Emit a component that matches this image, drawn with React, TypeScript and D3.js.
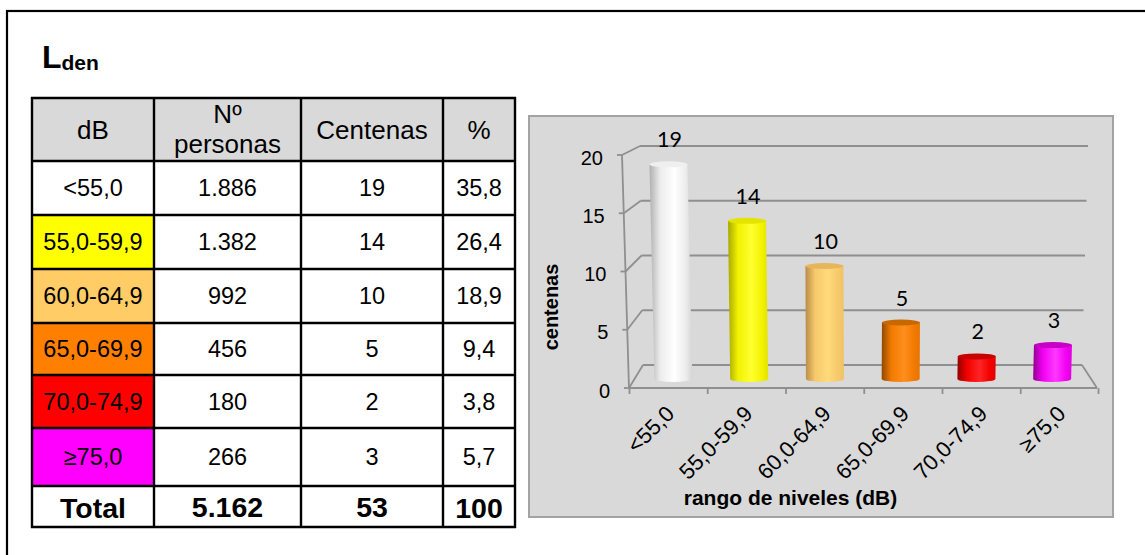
import React from "react";
import * as d3 from "d3";

// Noise exposure table (Lden) and its 3D cylinder chart
const categories = ["<55,0", "55,0-59,9", "60,0-64,9", "65,0-69,9", "70,0-74,9", "≥75,0"];
const personas = [1886, 1382, 992, 456, 180, 266];
const centenas = [19, 14, 10, 5, 2, 3];
const porcentajes = [35.8, 26.4, 18.9, 9.4, 3.8, 5.7];
const totalPersonas = 5162;
const totalCentenas = 53;
const totalPorcentaje = 100;
const yTicks = [0, 5, 10, 15, 20];

const rangeColors = ["#ffffff", "#ffff00", "#ffcc66", "#ff8000", "#ff0000", "#ff00ff"];
const barStyles = [
  { left: "#b0b0b0", mid: "#ececec", hi: "#ffffff", right: "#d4d4d4", top: "#efefef" },
  { left: "#a8a800", mid: "#f2f200", hi: "#ffff30", right: "#e2e200", top: "#e4e400" },
  { left: "#b88c48", mid: "#f6c96a", hi: "#ffda7c", right: "#f0c264", top: "#e6b65c" },
  { left: "#8f4a00", mid: "#f27a00", hi: "#ff8e1c", right: "#e87400", top: "#c86800" },
  { left: "#900000", mid: "#f20000", hi: "#ff2424", right: "#e00000", top: "#c80000" },
  { left: "#900090", mid: "#f200f2", hi: "#ff38ff", right: "#e000e0", top: "#c800c8" },
];

const es = d3.formatLocale({ decimal: ",", thousands: ".", grouping: [3], currency: ["", " €"] });
const fmtInt = es.format(",d");
const fmtPct = es.format(".1f");

const SANS = "'Liberation Sans', Arial, sans-serif";
const CAL = "Lato, 'Open Sans', sans-serif";

// table grid
const colEdges = [32, 154, 301, 443, 515];
const rowEdges = [98, 161, 215, 269, 323, 375, 428, 486, 527];

// chart geometry (3D frame)
const yFront = d3.scaleLinear().domain([0, 20]).range([388, 155]);
const yBack = d3.scaleLinear().domain([0, 20]).range([365, 146]);
const axisX = d3.scaleLinear().domain([0, 20]).range([629, 622]);
const backLeftX = d3.scaleLinear().domain([0, 20]).range([643, 640]);
const backRightX = d3.scaleLinear().domain([0, 20]).range([1082, 1088]);
const floorFrontRight = 1097;
const xFront = d3.scaleBand<string>().domain(categories).range([629.5, 1099]);
const xBar = d3.scaleBand<string>().domain(categories).range([635.6, 1090]);
const yBar = d3.scaleLinear().domain([0, 20]).range([379, 153]);
const barRx = 19;
const barRy = 3;

function Table() {
  const cells: React.ReactNode[] = [];
  const midX = (c: number) => (colEdges[c] + colEdges[c + 1]) / 2;
  const midY = (r: number) => (rowEdges[r] + rowEdges[r + 1]) / 2;

  // header
  cells.push(
    <rect key="hdr" x={colEdges[0]} y={rowEdges[0]} width={colEdges[4] - colEdges[0]} height={rowEdges[1] - rowEdges[0]} fill="#d9d9d9" />
  );
  categories.forEach((c, i) => {
    cells.push(
      <rect key={"f" + i} x={colEdges[0]} y={rowEdges[i + 1]} width={colEdges[1] - colEdges[0]} height={rowEdges[i + 2] - rowEdges[i + 1]} fill={rangeColors[i]} />
    );
  });

  const hs = 26;
  const hb = midY(0) + 0.36 * hs;
  cells.push(
    <g key="htxt" fontFamily={SANS} fontSize={hs} textAnchor="middle" fill="#000">
      <text x={midX(0)} y={hb}>dB</text>
      <text x={midX(1)} y={123}>Nº</text>
      <text x={midX(1)} y={153}>personas</text>
      <text x={midX(2)} y={hb}>Centenas</text>
      <text x={midX(3)} y={hb}>%</text>
    </g>
  );

  const bs = 23.5;
  categories.forEach((c, i) => {
    const y = midY(i + 1) + 0.36 * bs;
    cells.push(
      <g key={"r" + i} fontFamily={SANS} fontSize={bs} textAnchor="middle" fill="#000">
        <text x={midX(0)} y={y}>{c}</text>
        <text x={midX(1)} y={y}>{fmtInt(personas[i])}</text>
        <text x={midX(2)} y={y}>{centenas[i]}</text>
        <text x={midX(3)} y={y}>{fmtPct(porcentajes[i])}</text>
      </g>
    );
  });

  const ts = 28.5;
  const ty = midY(7) + 0.36 * ts + 1;
  cells.push(
    <g key="tot" fontFamily={SANS} fontSize={ts} fontWeight="bold" textAnchor="middle" fill="#000">
      <text x={midX(0)} y={ty}>Total</text>
      <text x={midX(1)} y={ty - 1}>{fmtInt(totalPersonas)}</text>
      <text x={midX(2)} y={ty - 1}>{totalCentenas}</text>
      <text x={midX(3)} y={ty}>{totalPorcentaje}</text>
    </g>
  );

  rowEdges.forEach((y, i) => {
    cells.push(<line key={"h" + i} x1={colEdges[0] - 1} x2={colEdges[4] + 1} y1={y} y2={y} stroke="#000" strokeWidth={2.4} />);
  });
  colEdges.forEach((x, i) => {
    cells.push(<line key={"v" + i} x1={x} x2={x} y1={rowEdges[0] - 1} y2={rowEdges[8] + 1} stroke="#000" strokeWidth={2.4} />);
  });
  return <g>{cells}</g>;
}

function Chart() {
  const grid = "#8f8f8f";
  const slope = (x: number) => (860 - x) * 0.000125;

  return (
    <g>
      <defs>
        {barStyles.map((s, i) => (
          <linearGradient key={i} id={"cyl" + i} x1="0" x2="1" y1="0" y2="0">
            <stop offset="0" stopColor={s.left} />
            <stop offset="0.25" stopColor={s.mid} />
            <stop offset="0.58" stopColor={s.hi} />
            <stop offset="0.85" stopColor={s.mid} />
            <stop offset="1" stopColor={s.right} />
          </linearGradient>
        ))}
      </defs>
      <rect x={529} y={116} width={584} height={401} fill="#d9d9d9" stroke="#a3a3a3" strokeWidth={2} />

      {/* back wall gridlines and side wall */}
      {yTicks.map((v) => (
        <g key={"g" + v} stroke={grid} strokeWidth={1.8} fill="none">
          <line x1={backLeftX(v)} x2={backRightX(v)} y1={yBack(v)} y2={yBack(v)} />
          <line x1={axisX(v)} x2={backLeftX(v)} y1={yFront(v)} y2={yBack(v)} />
          <line x1={axisX(v) - 5} x2={axisX(v)} y1={yFront(v)} y2={yFront(v)} />
        </g>
      ))}
      {/* floor and front axis */}
      <g stroke={grid} strokeWidth={1.8} fill="none">
        <line x1={axisX(0)} x2={axisX(20)} y1={yFront(0)} y2={yFront(20)} />
        <line x1={axisX(0)} x2={floorFrontRight} y1={yFront(0)} y2={yFront(0)} />
        <line x1={backRightX(0)} x2={floorFrontRight} y1={yBack(0)} y2={yFront(0)} />
        {categories.map((c) => (
          <line key={c} x1={xFront(c)!} x2={xFront(c)!} y1={yFront(0)} y2={yFront(0) + 6} />
        ))}
        <line x1={floorFrontRight + 1.5} x2={floorFrontRight + 1.5} y1={yFront(0)} y2={yFront(0) + 6} />
      </g>

      {/* y tick labels */}
      <g fontFamily={SANS} fontSize={20} textAnchor="end" fill="#000">
        {yTicks.map((v) => (
          <text key={v} x={axisX(v) - 19} y={yFront(v) + 9.5}>{v}</text>
        ))}
      </g>

      {/* cylinders */}
      {categories.map((c, i) => {
        const v = centenas[i];
        const bx = xBar(c)! + xBar.bandwidth() / 2;
        const by = yBar(0);
        const ty = yBar(v);
        const tx = bx - slope(bx) * (by - ty);
        const body = `M${tx - barRx},${ty} L${bx - barRx},${by} A${barRx},${barRy} 0 0 0 ${bx + barRx},${by} L${tx + barRx},${ty} Z`;
        return (
          <g key={c}>
            <path d={body} fill={`url(#cyl${i})`} />
            <ellipse cx={tx} cy={ty} rx={barRx} ry={barRy} fill={barStyles[i].top} />
            <text x={tx + 1} y={ty - 17} fontFamily={CAL} fontSize={21.5} textAnchor="middle" fill="#000">{v}</text>
          </g>
        );
      })}

      {/* category labels */}
      <g fontFamily={SANS} fontSize={22} textAnchor="end" fill="#000">
        {categories.map((c) => {
          const cx = xFront(c)! + xFront.bandwidth() / 2;
          return (
            <text key={c} transform={`translate(${cx + 7},${415}) rotate(-45)`}>{c}</text>
          );
        })}
      </g>

      <text transform="translate(558,307) rotate(-90)" fontFamily={SANS} fontSize={20} fontWeight="bold" textAnchor="middle">centenas</text>
      <text x={790.5} y={505} fontFamily={SANS} fontSize={21} fontWeight="bold" textAnchor="middle">rango de niveles (dB)</text>
    </g>
  );
}

export default function App() {
  return (
    <div style={{ position: "absolute", left: 0, top: 0 }}>
      <svg width={1145} height={555} viewBox="0 0 1145 555" style={{ display: "block", background: "#fff" }}>
        <rect x={7} y={11} width={1160} height={600} fill="none" stroke="#000" strokeWidth={2.2} />
        <text x={42} y={68} fontFamily={SANS} fontWeight="bold" fontSize={32}>
          L<tspan fontSize={21} dy={2}>den</tspan>
        </text>
        <Table />
        <Chart />
      </svg>
    </div>
  );
}
